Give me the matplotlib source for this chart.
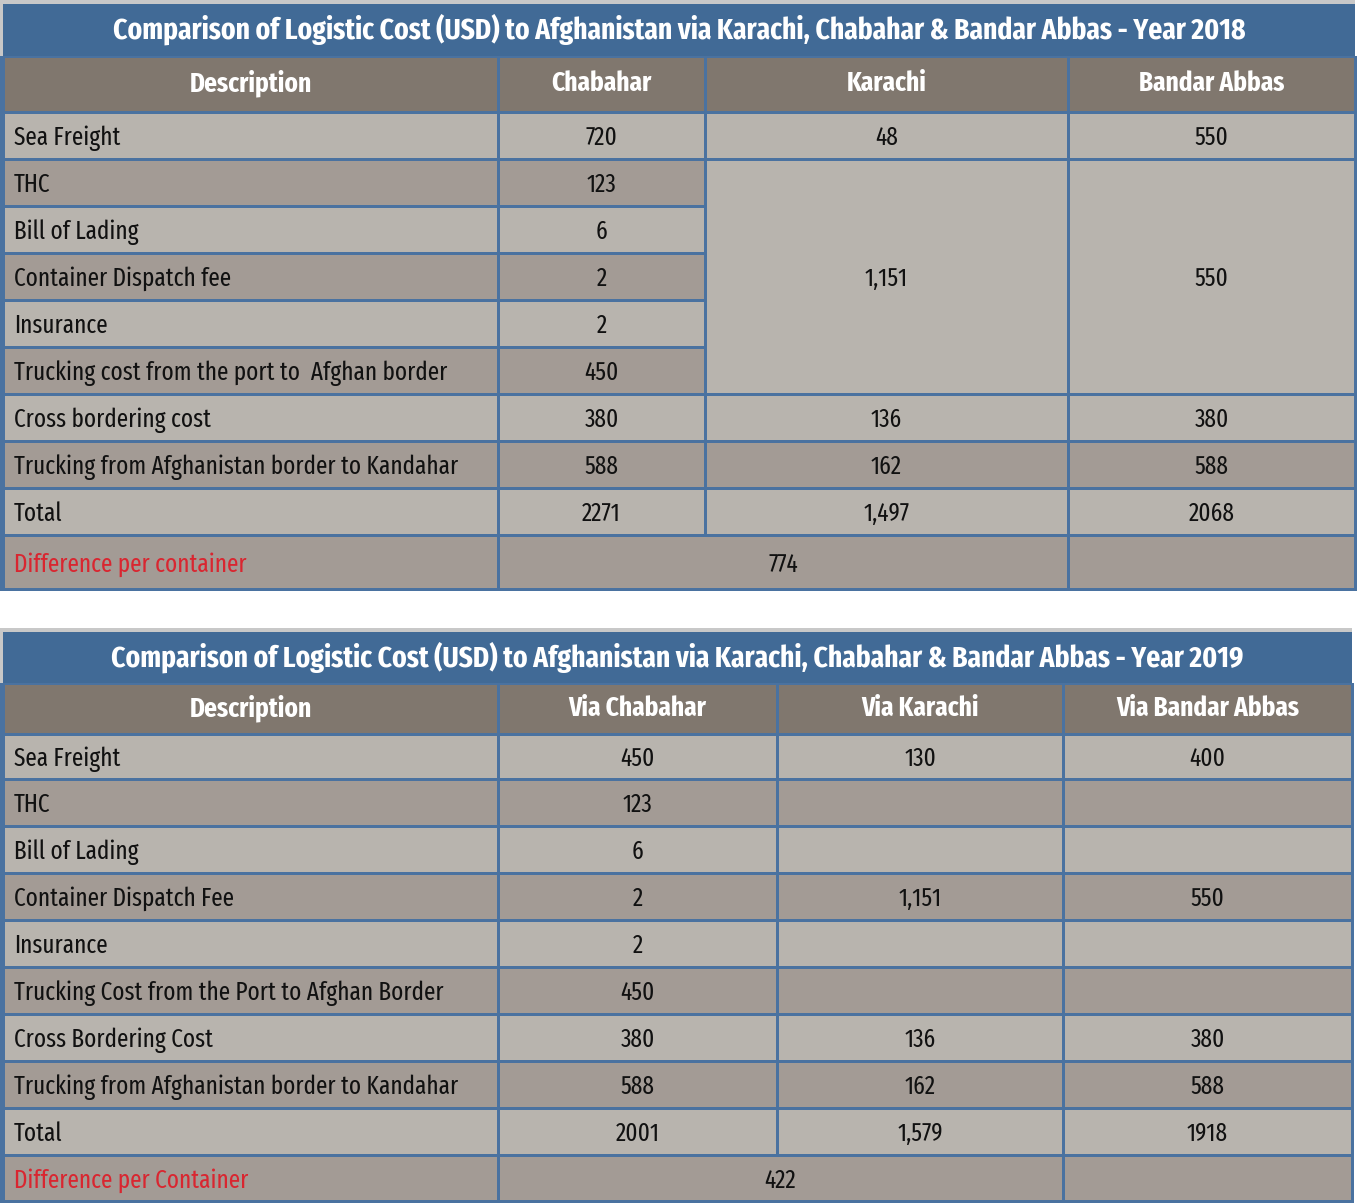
import matplotlib
matplotlib.use("Agg")
import matplotlib.pyplot as plt
from matplotlib.patches import Rectangle

FONTS = ['Fira Sans Extra Condensed', 'Fira Sans Condensed', 'Roboto Condensed', 'DejaVu Sans']
plt.rcParams['font.family'] = FONTS

# ---------------- data ----------------
title_2018 = "Comparison of Logistic Cost (USD) to Afghanistan via Karachi, Chabahar & Bandar Abbas - Year 2018"
headers_2018 = ["Description", "Chabahar", "Karachi", "Bandar Abbas"]
desc_2018 = ["Sea Freight", "THC", "Bill of Lading", "Container Dispatch fee", "Insurance",
             "Trucking cost from the port to  Afghan border", "Cross bordering cost",
             "Trucking from Afghanistan border to Kandahar", "Total"]
chabahar_2018 = ["720", "123", "6", "2", "2", "450", "380", "588", "2271"]
karachi_2018 = ["48", "1,151", "136", "162", "1,497"]
karachi_2018_rowspan = [1, 5, 1, 1, 1]
bandar_2018 = ["550", "550", "380", "588", "2068"]
bandar_2018_rowspan = [1, 5, 1, 1, 1]
diff_label_2018 = "Difference per container"
diff_value_2018 = "774"

title_2019 = "Comparison of Logistic Cost (USD) to Afghanistan via Karachi, Chabahar & Bandar Abbas - Year 2019"
headers_2019 = ["Description", "Via Chabahar", "Via Karachi", "Via Bandar Abbas"]
desc_2019 = ["Sea Freight", "THC", "Bill of Lading", "Container Dispatch Fee", "Insurance",
             "Trucking Cost from the Port to Afghan Border", "Cross Bordering Cost",
             "Trucking from Afghanistan border to Kandahar", "Total"]
chabahar_2019 = ["450", "123", "6", "2", "2", "450", "380", "588", "2001"]
karachi_2019 = ["130", "", "", "1,151", "", "", "136", "162", "1,579"]
bandar_2019 = ["400", "", "", "550", "", "", "380", "588", "1918"]
diff_label_2019 = "Difference per Container"
diff_value_2019 = "422"

# ---------------- style ----------------
W, H = 1358, 1204
BLUE = "#416a96"
GRID = "#4a72a0"
HEAD = "#80776e"
LIGHT = "#b8b4ae"
DARK = "#a39b95"
SHADOW = "#c8c8c8"
RED = "#d92630"
TXT = "#111111"

fig = plt.figure(figsize=(W / 100, H / 100), dpi=100)
ax = fig.add_axes([0, 0, 1, 1])
ax.set_xlim(0, W)
ax.set_ylim(H, 0)
ax.axis("off")

BODY_FS = 18.2
HEAD_FS = 19.8
TITLE_FS = 21.5
G = 1.5   # half grid line width
DY = 2.5  # text baseline nudge


def cell(x0, x1, y0, y1, color):
    ax.add_patch(Rectangle((x0 + G, y0 + G), x1 - x0 - 2 * G, y1 - y0 - 2 * G,
                           facecolor=color, edgecolor="none", zorder=2))


def put(x, y, s, ha="center", color=TXT, fs=BODY_FS, bold=False):
    ax.text(x, y + DY, s, color=color, fontsize=fs, fontweight="bold" if bold else "normal",
            family=FONTS, ha=ha, va="center", zorder=5)


def draw_table(top, cols, rows, title, headers, desc, chab, kar, kar_span, ban, ban_span,
               diff_label, diff_value):
    left, right = cols[0], cols[-1]
    ax.add_patch(Rectangle((left - 3, top - 4), right - left + 3, rows[0] - top + 4,
                           facecolor=SHADOW, edgecolor="none", zorder=0))
    ax.add_patch(Rectangle((left, top), right - left, rows[0] - top,
                           facecolor=BLUE, edgecolor="none", zorder=1))
    put((left + right) / 2, (top + rows[0]) / 2 - 3, title, color="white", fs=TITLE_FS, bold=True)
    ax.add_patch(Rectangle((left - 3, rows[0]), right - left + 4.5, rows[-1] - rows[0] + 1.5,
                           facecolor=GRID, edgecolor="none", zorder=1))
    for j, h in enumerate(headers):
        cell(cols[j], cols[j + 1], rows[0], rows[1], HEAD)
        put((cols[j] + cols[j + 1]) / 2, (rows[0] + rows[1]) / 2 - 3, h, color="white",
            fs=HEAD_FS, bold=True)
    n = len(desc)
    shades = [LIGHT if i % 2 == 0 else DARK for i in range(n + 1)]
    for i in range(n):
        y0, y1 = rows[i + 1], rows[i + 2]
        cell(cols[0], cols[1], y0, y1, shades[i])
        put(cols[0] + 11, (y0 + y1) / 2, desc[i], ha="left")
        cell(cols[1], cols[2], y0, y1, shades[i])
        put((cols[1] + cols[2]) / 2, (y0 + y1) / 2, chab[i])
    for colidx, vals, spans in ((2, kar, kar_span), (3, ban, ban_span)):
        r = 0
        for v, s in zip(vals, spans):
            y0, y1 = rows[r + 1], rows[r + 1 + s]
            shade = LIGHT if s > 1 else shades[r]
            cell(cols[colidx], cols[colidx + 1], y0, y1, shade)
            put((cols[colidx] + cols[colidx + 1]) / 2, (y0 + y1) / 2, v)
            r += s
    y0, y1 = rows[n + 1], rows[n + 2]
    cell(cols[0], cols[1], y0, y1, shades[n])
    put(cols[0] + 11, (y0 + y1) / 2, diff_label, ha="left", color=RED)
    cell(cols[1], cols[3], y0, y1, shades[n])
    put((cols[1] + cols[3]) / 2, (y0 + y1) / 2, diff_value)
    cell(cols[3], cols[4], y0, y1, shades[n])


draw_table(top=4, cols=[3, 498, 705, 1068, 1355],
           rows=[56, 112, 159, 206, 253, 300, 347, 394, 441, 488, 535, 589],
           title=title_2018, headers=headers_2018, desc=desc_2018, chab=chabahar_2018,
           kar=karachi_2018, kar_span=karachi_2018_rowspan,
           ban=bandar_2018, ban_span=bandar_2018_rowspan,
           diff_label=diff_label_2018, diff_value=diff_value_2018)

draw_table(top=632, cols=[3, 498, 777, 1063, 1352],
           rows=[683, 734, 779, 826, 873, 920, 967, 1014, 1061, 1108, 1155, 1201],
           title=title_2019, headers=headers_2019, desc=desc_2019, chab=chabahar_2019,
           kar=karachi_2019, kar_span=[1] * len(karachi_2019),
           ban=bandar_2019, ban_span=[1] * len(bandar_2019),
           diff_label=diff_label_2019, diff_value=diff_value_2019)

fig.savefig("out.png", dpi=100, facecolor="white")
